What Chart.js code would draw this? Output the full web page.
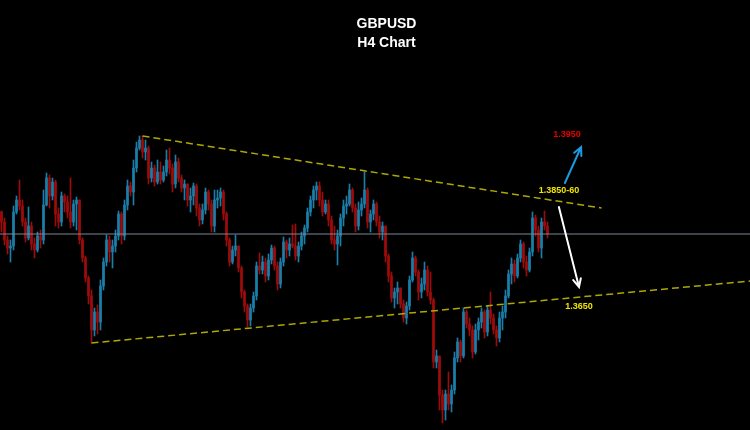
<!DOCTYPE html>
<html>
<head>
<meta charset="utf-8">
<script src="https://cdn.jsdelivr.net/npm/chart.js@4.4.1/dist/chart.umd.min.js"></script>
<style>
	html, body { margin: 0; padding: 0; background: #000; }
	#wrap { position: relative; width: 750px; height: 430px; overflow: hidden; }
	.title { position: absolute; left: 0; width: 773px; text-align: center; color: #fff;
		font: bold 14px "Liberation Sans", Arial, sans-serif; line-height: 16px; }
</style>
</head>
<body>
<div id="wrap">
	<canvas id="chart" width="750" height="430"></canvas>
	<div class="title" style="top:15px">GBPUSD</div>
	<div class="title" style="top:34px">H4 Chart</div>
</div>
<script>
// H4 candles (price)
const opens = [
	1.3826,1.3806,1.3770,1.3754,1.3758,1.3826,1.3850,1.3838,1.3806,1.3774,
	1.3798,1.3762,1.3750,1.3778,1.3770,1.3840,1.3894,1.3858,1.3886,1.3822,
	1.3806,1.3858,1.3846,1.3826,1.3806,1.3842,1.3850,1.3770,1.3734,1.3694,
	1.3658,1.3590,1.3626,1.3606,1.3678,1.3726,1.3770,1.3746,1.3758,1.3778,
	1.3822,1.3778,1.3840,1.3878,1.3866,1.3914,1.3954,1.3970,1.3946,1.3954,
	1.3894,1.3914,1.3886,1.3906,1.3890,1.3906,1.3930,1.3914,1.3882,1.3926,
	1.3894,1.3874,1.3882,1.3850,1.3858,1.3878,1.3834,1.3810,1.3830,1.3866,
	1.3842,1.3798,1.3850,1.3854,1.3866,1.3822,1.3770,1.3726,1.3750,1.3758,
	1.3714,1.3666,1.3638,1.3610,1.3634,1.3658,1.3718,1.3710,1.3726,1.3698,
	1.3730,1.3754,1.3718,1.3682,1.3726,1.3766,1.3750,1.3762,1.3758,1.3738,
	1.3758,1.3778,1.3794,1.3826,1.3850,1.3870,1.3878,1.3850,1.3826,1.3842,
	1.3810,1.3770,1.3762,1.3778,1.3814,1.3838,1.3842,1.3870,1.3834,1.3798,
	1.3830,1.3842,1.3870,1.3806,1.3822,1.3842,1.3806,1.3786,1.3798,1.3738,
	1.3698,1.3654,1.3666,1.3674,1.3642,1.3614,1.3638,1.3690,1.3734,1.3706,
	1.3666,1.3682,1.3710,1.3666,1.3650,1.3526,1.3538,1.3460,1.3430,1.3462,
	1.3442,1.3470,1.3534,1.3566,1.3538,1.3626,1.3602,1.3590,1.3546,1.3590,
	1.3606,1.3626,1.3586,1.3630,1.3614,1.3590,1.3574,1.3614,1.3626,1.3658,
	1.3702,1.3722,1.3698,1.3734,1.3762,1.3726,1.3710,1.3746,1.3814,1.3790,
	1.3754,1.3806,1.3798
];
const highs = [
	1.3828,1.3814,1.3778,1.3770,1.3838,1.3858,1.3890,1.3850,1.3814,1.3836,
	1.3806,1.3774,1.3786,1.3790,1.3870,1.3904,1.3900,1.3894,1.3890,1.3834,
	1.3866,1.3862,1.3858,1.3894,1.3850,1.3856,1.3850,1.3774,1.3738,1.3698,
	1.3670,1.3634,1.3640,1.3690,1.3734,1.3780,1.3778,1.3770,1.3790,1.3828,
	1.3826,1.3850,1.3890,1.3886,1.3930,1.3966,1.3978,1.3978,1.3970,1.3958,
	1.3926,1.3920,1.3930,1.3926,1.3918,1.3950,1.3954,1.3922,1.3940,1.3934,
	1.3900,1.3890,1.3882,1.3874,1.3884,1.3882,1.3842,1.3842,1.3874,1.3870,
	1.3850,1.3870,1.3870,1.3874,1.3870,1.3826,1.3774,1.3758,1.3780,1.3758,
	1.3718,1.3670,1.3642,1.3642,1.3666,1.3726,1.3744,1.3738,1.3734,1.3742,
	1.3760,1.3758,1.3726,1.3734,1.3776,1.3770,1.3774,1.3800,1.3802,1.3766,
	1.3786,1.3800,1.3834,1.3858,1.3878,1.3886,1.3886,1.3866,1.3850,1.3850,
	1.3818,1.3798,1.3790,1.3822,1.3850,1.3858,1.3882,1.3874,1.3842,1.3846,
	1.3854,1.3906,1.3874,1.3830,1.3850,1.3846,1.3818,1.3806,1.3798,1.3742,
	1.3706,1.3674,1.3686,1.3674,1.3650,1.3646,1.3698,1.3746,1.3738,1.3710,
	1.3694,1.3726,1.3718,1.3706,1.3654,1.3550,1.3538,1.3470,1.3470,1.3506,
	1.3480,1.3546,1.3574,1.3570,1.3634,1.3630,1.3614,1.3598,1.3602,1.3614,
	1.3634,1.3630,1.3638,1.3666,1.3622,1.3598,1.3626,1.3638,1.3670,1.3710,
	1.3734,1.3730,1.3742,1.3770,1.3766,1.3738,1.3754,1.3826,1.3820,1.3798,
	1.3814,1.3828,1.3806
];
const lows = [
	1.3786,1.3760,1.3742,1.3726,1.3750,1.3822,1.3830,1.3798,1.3766,1.3770,
	1.3750,1.3734,1.3746,1.3754,1.3762,1.3838,1.3834,1.3850,1.3798,1.3794,
	1.3798,1.3826,1.3814,1.3794,1.3798,1.3790,1.3762,1.3726,1.3686,1.3642,
	1.3564,1.3578,1.3582,1.3590,1.3670,1.3718,1.3726,1.3714,1.3746,1.3770,
	1.3762,1.3770,1.3830,1.3858,1.3840,1.3906,1.3950,1.3934,1.3930,1.3882,
	1.3886,1.3878,1.3882,1.3882,1.3886,1.3898,1.3902,1.3866,1.3874,1.3886,
	1.3866,1.3850,1.3838,1.3826,1.3840,1.3818,1.3798,1.3802,1.3822,1.3830,
	1.3786,1.3786,1.3834,1.3838,1.3810,1.3758,1.3718,1.3722,1.3738,1.3706,
	1.3654,1.3626,1.3596,1.3598,1.3626,1.3650,1.3702,1.3702,1.3686,1.3690,
	1.3722,1.3710,1.3670,1.3674,1.3718,1.3734,1.3738,1.3754,1.3730,1.3726,
	1.3750,1.3762,1.3786,1.3818,1.3834,1.3850,1.3838,1.3818,1.3822,1.3798,
	1.3762,1.3750,1.3720,1.3758,1.3798,1.3822,1.3838,1.3826,1.3786,1.3790,
	1.3818,1.3834,1.3794,1.3786,1.3810,1.3798,1.3774,1.3770,1.3726,1.3686,
	1.3646,1.3634,1.3642,1.3634,1.3606,1.3602,1.3630,1.3686,1.3698,1.3650,
	1.3654,1.3670,1.3658,1.3642,1.3514,1.3514,1.3430,1.3404,1.3410,1.3430,
	1.3426,1.3462,1.3526,1.3526,1.3534,1.3594,1.3578,1.3534,1.3542,1.3570,
	1.3594,1.3574,1.3578,1.3602,1.3582,1.3558,1.3566,1.3590,1.3614,1.3654,
	1.3682,1.3686,1.3694,1.3726,1.3714,1.3698,1.3706,1.3738,1.3778,1.3746,
	1.3734,1.3790,1.3774
];
const closes = [
	1.3806,1.3770,1.3754,1.3758,1.3826,1.3850,1.3838,1.3806,1.3774,1.3798,
	1.3762,1.3750,1.3778,1.3770,1.3840,1.3894,1.3858,1.3886,1.3822,1.3806,
	1.3858,1.3846,1.3826,1.3806,1.3842,1.3850,1.3770,1.3734,1.3694,1.3658,
	1.3590,1.3626,1.3606,1.3678,1.3726,1.3770,1.3746,1.3758,1.3778,1.3822,
	1.3778,1.3840,1.3878,1.3866,1.3914,1.3954,1.3970,1.3946,1.3954,1.3894,
	1.3914,1.3886,1.3906,1.3890,1.3906,1.3930,1.3914,1.3882,1.3926,1.3894,
	1.3874,1.3882,1.3850,1.3858,1.3878,1.3834,1.3810,1.3830,1.3866,1.3842,
	1.3798,1.3850,1.3854,1.3866,1.3822,1.3770,1.3726,1.3750,1.3758,1.3714,
	1.3666,1.3638,1.3610,1.3634,1.3658,1.3718,1.3710,1.3726,1.3698,1.3730,
	1.3754,1.3718,1.3682,1.3726,1.3766,1.3750,1.3762,1.3758,1.3738,1.3758,
	1.3778,1.3794,1.3826,1.3850,1.3870,1.3878,1.3850,1.3826,1.3842,1.3810,
	1.3770,1.3762,1.3778,1.3814,1.3838,1.3842,1.3870,1.3834,1.3798,1.3830,
	1.3842,1.3870,1.3806,1.3822,1.3842,1.3806,1.3786,1.3798,1.3738,1.3698,
	1.3654,1.3666,1.3674,1.3642,1.3614,1.3638,1.3690,1.3734,1.3706,1.3666,
	1.3682,1.3710,1.3666,1.3650,1.3526,1.3538,1.3460,1.3430,1.3462,1.3442,
	1.3470,1.3534,1.3566,1.3538,1.3626,1.3602,1.3590,1.3546,1.3590,1.3606,
	1.3626,1.3586,1.3630,1.3614,1.3590,1.3574,1.3614,1.3626,1.3658,1.3702,
	1.3722,1.3698,1.3734,1.3762,1.3726,1.3710,1.3746,1.3814,1.3790,1.3754,
	1.3806,1.3798,1.3782
];

// trend lines [barIndex, price]
const upperLine = [[47, 1.3978], [200, 1.3834]];
const lowerLine = [[30, 1.3564], [249.5, 1.3688]];
const lastPrice = 1.3782;

// scenario arrows and level labels
const arrowUp = [[187.8, 1.3884], [193.2, 1.3956]];
const arrowDown = [[185.8, 1.3836], [192.5, 1.3676]];
const levelText = ['1.3950', '1.3850-60', '1.3650'];
const levelX = [188.5, 185.8, 192.5];
const levelY = [1.3980, 1.3868, 1.3636];
const levelColor = ['#e60000', '#f0e400', '#f0e400'];

const BULL = '#1a7ea9';
const BEAR = '#9e0b0b';

const candleColors = closes.map((c, i) => c >= opens[i] ? BULL : BEAR);
const wickData = closes.map((c, i) => ({ x: i, y: [lows[i], highs[i]] }));
const bodyData = closes.map((c, i) => ({ x: i, y: [opens[i], closes[i]] }));
const toPts = arr => arr.map(p => ({ x: p[0], y: p[1] }));

const overlayPlugin = {
	id: 'overlay',
	afterDatasetsDraw(chart) {
		const ctx = chart.ctx;
		const xs = chart.scales.x, ys = chart.scales.y;

		function arrow(pts, color) {
			const x1 = xs.getPixelForValue(pts[0][0]), y1 = ys.getPixelForValue(pts[0][1]);
			const x2 = xs.getPixelForValue(pts[1][0]), y2 = ys.getPixelForValue(pts[1][1]);
			const ang = Math.atan2(y2 - y1, x2 - x1);
			ctx.save();
			ctx.strokeStyle = color;
			ctx.lineWidth = 2;
			ctx.lineCap = 'round';
			ctx.beginPath();
			ctx.moveTo(x1, y1);
			ctx.lineTo(x2, y2);
			ctx.moveTo(x2 - 9 * Math.cos(ang - 0.45), y2 - 9 * Math.sin(ang - 0.45));
			ctx.lineTo(x2, y2);
			ctx.lineTo(x2 - 9 * Math.cos(ang + 0.45), y2 - 9 * Math.sin(ang + 0.45));
			ctx.stroke();
			ctx.restore();
		}
		arrow(arrowUp, '#1c9ae0');
		arrow(arrowDown, '#ffffff');

		ctx.save();
		ctx.font = 'bold 9px "Liberation Sans", Arial, sans-serif';
		ctx.textAlign = 'center';
		ctx.textBaseline = 'middle';
		levelText.forEach((t, i) => {
			ctx.fillStyle = levelColor[i];
			ctx.fillText(t, xs.getPixelForValue(levelX[i]), ys.getPixelForValue(levelY[i]));
		});
		ctx.restore();
	}
};

new Chart(document.getElementById('chart'), {
	type: 'bar',
	data: {
		datasets: [
			{
				type: 'line',
				data: toPts(upperLine),
				borderColor: '#aea800',
				borderWidth: 1.5,
				borderDash: [7, 4],
				pointRadius: 0,
				order: 0
			},
			{
				type: 'line',
				data: toPts(lowerLine),
				borderColor: '#aea800',
				borderWidth: 1.5,
				borderDash: [7, 4],
				pointRadius: 0,
				order: 0
			},
			{
				type: 'line',
				data: [{ x: -0.5, y: lastPrice }, { x: 249.5, y: lastPrice }],
				borderColor: '#7c8796',
				borderWidth: 1,
				pointRadius: 0,
				order: 0
			},
			{
				data: bodyData,
				backgroundColor: candleColors,
				barThickness: 2,
				minBarLength: 1,
				grouped: false,
				order: 1
			},
			{
				data: wickData,
				backgroundColor: candleColors,
				barThickness: 1,
				grouped: false,
				order: 2
			}
		]
	},
	options: {
		responsive: false,
		animation: false,
		events: [],
		layout: { padding: 0 },
		plugins: {
			legend: { display: false },
			tooltip: { enabled: false }
		},
		scales: {
			x: { type: 'linear', min: -0.5, max: 249.5, offset: false, display: false },
			y: { type: 'linear', min: 1.3390, max: 1.4250, display: false }
		}
	},
	plugins: [overlayPlugin]
});
</script>
</body>
</html>
